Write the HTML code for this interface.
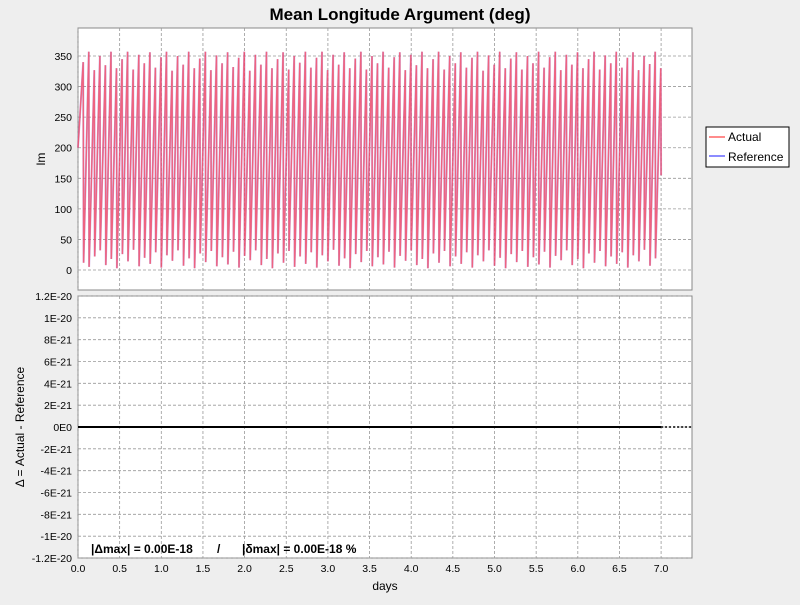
<!DOCTYPE html>
<html><head><meta charset="utf-8"><style>
body{margin:0;background:#eeeeee;font-family:"Liberation Sans",sans-serif}
svg text{font-family:"Liberation Sans",sans-serif}
</style></head><body>
<svg id="c" width="800" height="600" viewBox="0 0 800 600">
<rect width="800" height="600" fill="#eeeeee"/>
<text x="400" y="20" text-anchor="middle" font-size="17" font-weight="bold">Mean Longitude Argument (deg)</text>
<rect x="78" y="28" width="614" height="262" fill="#fff" stroke="#888"/>
<rect x="78" y="296" width="614" height="262" fill="#fff" stroke="#888"/>
<g id="grid"></g>
<g id="series"></g>
<g id="axes" font-size="10.5"></g>
<text transform="translate(45,159) rotate(-90)" text-anchor="middle" font-size="12">lm</text>
<text transform="translate(24,427) rotate(-90)" text-anchor="middle" font-size="12">Δ = Actual - Reference</text>
<text x="385" y="590" text-anchor="middle" font-size="12">days</text>
<text x="91" y="553" font-size="12" font-weight="bold">|Δmax| = 0.00E-18</text>
<text x="217" y="553" font-size="12" font-weight="bold">/</text>
<text x="242" y="553" font-size="12" font-weight="bold">|δmax| = 0.00E-18 %</text>
<g>
<rect x="706" y="127" width="83" height="40" fill="#fff" stroke="#000"/>
<line x1="709" y1="137" x2="725" y2="137" stroke="#ff6666" stroke-width="1.5"/>
<text x="728" y="141" font-size="12">Actual</text>
<line x1="709" y1="156" x2="725" y2="156" stroke="#6666ff" stroke-width="1.5"/>
<text x="728" y="161" font-size="12">Reference</text>
</g>
</svg>
<script>
const xTicks=[0,0.5,1,1.5,2,2.5,3,3.5,4,4.5,5,5.5,6,6.5,7];
const topTicks=[0,50,100,150,200,250,300,350];
const botTicks=[12e-21,10e-21,8e-21,6e-21,4e-21,2e-21,0,-2e-21,-4e-21,-6e-21,-8e-21,-10e-21,-12e-21];
const botLabels=["1.2E-20","1E-20","8E-21","6E-21","4E-21","2E-21","0E0","-2E-21","-4E-21","-6E-21","-8E-21","-1E-20","-1.2E-20"];
const orbitPeriod=7/105;
const startValue=200;
const peaks=[340,357,327,350,335,357,330,345,357,328,352,338,356,331,348,357,326,350,336,357,330,346,357,327,351,338,356,332,347,357,326,352,336,357,330,345,356,328,350,339,357,331,347,357,327,352,336,356,330,346,357,328,350,338,357,331,348,356,327,352,335,357,330,345,357,328,350,338,356,331,347,357,326,351,336,357,330,346,356,328,350,338,357,331,348,357,327,352,336,356,330,345,357,328,351,338,357,331,347,356,327,350,337,357,330];
const troughs=[30,12,5,22,32,8,18,3,26,14,33,6,20,10,29,4,24,15,32,7,19,3,27,13,31,6,21,9,30,4,23,16,32,8,18,3,27,12,31,5,22,10,29,4,24,14,33,7,19,3,26,13,31,6,21,9,30,4,23,15,32,8,18,3,27,12,31,6,22,10,29,4,24,14,32,7,20,3,26,13,31,5,21,9,30,4,23,16,32,8,18,3,27,12,31,6,22,10,29,4,24,14,33,7,19];
const endValue=155;
const deltaTimes=[0,7];
const deltaVals=[0,0];

const NS="http://www.w3.org/2000/svg";
const X=t=>78+t*83.3;
const YT=v=>270-v*0.6114;
const YB=v=>427-v*(131/12e-21);
function el(tag,attrs,parent){const e=document.createElementNS(NS,tag);for(const k in attrs)e.setAttribute(k,attrs[k]);parent.appendChild(e);return e;}
const grid=document.getElementById('grid'),axes=document.getElementById('axes'),series=document.getElementById('series');
const gs={stroke:"#999","stroke-dasharray":"3,2","stroke-width":"0.8"};
xTicks.forEach(t=>{
  const x=X(t);
  const a=el('line',Object.assign({x1:x,x2:x,y1:28,y2:290},gs),grid);
  
  
  const b=el('line',Object.assign({x1:x,x2:x,y1:296,y2:558},gs),grid);
  
  
  const tx=el('text',{x:x,y:572,"text-anchor":"middle"},axes);tx.textContent=t.toFixed(1);
  
  
});
topTicks.forEach(v=>{
  const y=YT(v);
  const l=el('line',Object.assign({x1:78,x2:692,y1:y,y2:y},gs),grid);
  
  
  const tx=el('text',{x:72,y:y+4,"text-anchor":"end"},axes);tx.textContent=v;
  
  
});
botTicks.forEach((v,i)=>{
  const y=YB(v);
  const l=el('line',Object.assign({x1:78,x2:692,y1:y,y2:y},gs),grid);
  
  
  const tx=el('text',{x:72,y:y+4,"text-anchor":"end"},axes);tx.textContent=botLabels[i];
  
  
});
function buildPts(){
  const p=[[0,startValue]];
  for(let i=0;i<peaks.length;i++){
    const t0=i*orbitPeriod;
    if(i>0)p.push([t0,troughs[i]]);
    p.push([t0+orbitPeriod-0.004,peaks[i]]);
  }
  p.push([7,endValue]);
  return p.map(q=>X(q[0]).toFixed(1)+","+YT(q[1]).toFixed(1)).join(" ");
}
const pts=buildPts();
const ref=el('polyline',{points:pts,fill:"none",stroke:"#9966cc","stroke-width":"2","stroke-opacity":"0.55"},series);


const act=el('polyline',{points:pts,fill:"none",stroke:"#ff4455","stroke-width":"1.4","stroke-opacity":"0.7"},series);


const d=el('polyline',{points:deltaTimes.map((t,i)=>X(t)+","+YB(deltaVals[i])).join(" "),fill:"none",stroke:"#000","stroke-width":"2"},series);


const dz=el('line',{x1:X(7),x2:692,y1:YB(0),y2:YB(0),stroke:"#000","stroke-width":"1.5","stroke-dasharray":"2,2"},series);


</script>
</body></html>
